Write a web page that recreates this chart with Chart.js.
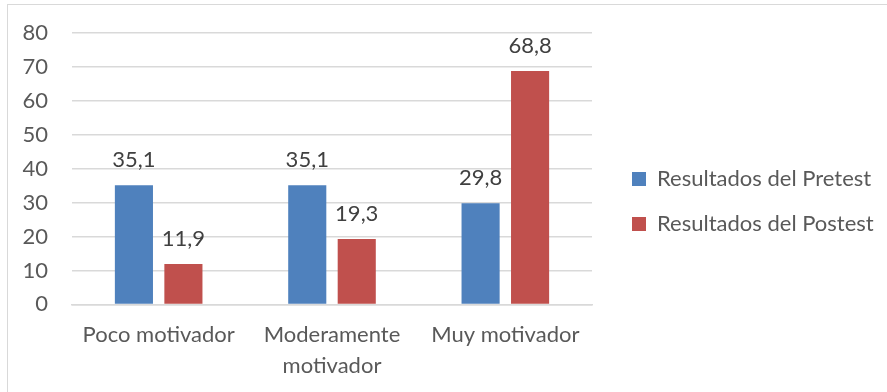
<!DOCTYPE html>
<html>
<head>
<meta charset="utf-8">
<script src="https://cdn.jsdelivr.net/npm/chart.js@4/dist/chart.umd.min.js"></script>
<style>
body { margin: 0; background: #fff; }
#frame { position: absolute; left: 7px; top: 4px; width: 900px; height: 400px; border: 1px solid #d9d9d9; }
#wrap { position: absolute; left: 0; top: 0; width: 887px; height: 392px; }
</style>
</head>
<body>
<div id="frame"></div>
<div id="wrap"><canvas id="grafico"></canvas></div>
<script>
var categorias = [["Poco motivador"], ["Moderamente", "motivador"], ["Muy motivador"]];
var pretest = [35.1, 35.1, 29.8];
var postest = [11.9, 19.3, 68.8];
var series = ["Resultados del Pretest", "Resultados del Postest"];
var ticksY = [0, 10, 20, 30, 40, 50, 60, 70, 80];

var fuente = "Lato, 'Open Sans', sans-serif";
var gris = "#595959";

// etiquetas de valor encima de cada barra
var etiquetas = {
	id: "etiquetas",
	afterDatasetsDraw: function(chart) {
		var ctx = chart.ctx;
		ctx.save();
		ctx.font = "22px " + fuente;
		ctx.fillStyle = "#404040";
		ctx.textAlign = "center";
		ctx.textBaseline = "middle";
		chart.data.datasets.forEach(function(ds, i) {
			chart.getDatasetMeta(i).data.forEach(function(bar, j) {
				ctx.fillText(ds.data[j].toFixed(1).replace(".", ","), bar.x, bar.y - 25);
			});
		});
		ctx.restore();
	}
};

// leyenda a la derecha con ancho fijo
var leyendaFija = {
	id: "leyendaFija",
	beforeLayout: function(chart) {
		var lg = chart.legend;
		if (lg && !lg._fijada) {
			var fit = lg.fit;
			lg.fit = function() {
				fit.call(this);
				this.width = 295;
			};
			lg._fijada = true;
		}
	},
	beforeDraw: function(chart) {
		var lg = chart.legend;
		var w = lg.right - lg.left;
		lg.left = 609;
		lg.right = 609 + w;
		lg.top -= 9;
		lg.bottom -= 9;
	}
};

var ctx = document.getElementById("grafico");
var grafico = new Chart(ctx, {
	type: "bar",
	data: {
		labels: categorias,
		datasets: [{
			label: series[0],
			data: pretest,
			backgroundColor: "#4f81bd",
			barPercentage: 0.77,
			categoryPercentage: 0.571
		}, {
			label: series[1],
			data: postest,
			backgroundColor: "#c0504d",
			barPercentage: 0.77,
			categoryPercentage: 0.571
		}]
	},
	options: {
		responsive: true,
		maintainAspectRatio: false,
		animation: false,
		layout: {padding: {top: 33, bottom: 4, left: 0, right: 0}},
		plugins: {
			tooltip: {enabled: false},
			legend: {
				position: "right",
				labels: {
					boxWidth: 14,
					boxHeight: 14,
					padding: 23,
					color: gris,
					font: {family: fuente, size: 22}
				}
			}
		},
		scales: {
			x: {
				grid: {display: false},
				border: {color: "#d9d9d9", width: 1.5},
				ticks: {
					color: gris,
					padding: 7,
					maxRotation: 0,
					font: {family: fuente, size: 22, lineHeight: 1.4}
				}
			},
			y: {
				min: 0,
				max: 80,
				afterBuildTicks: function(scale) {
					scale.ticks = ticksY.map(function(v) { return {value: v}; });
				},
				afterFit: function(scale) {
					scale.width = 72;
					scale.paddingTop = 0;
				},
				grid: {color: "#d9d9d9", lineWidth: 1.5, drawTicks: false},
				border: {display: false},
				ticks: {
					color: gris,
					padding: 24,
					font: {family: fuente, size: 22}
				}
			}
		}
	},
	plugins: [etiquetas, leyendaFija]
});
</script>
</body>
</html>
